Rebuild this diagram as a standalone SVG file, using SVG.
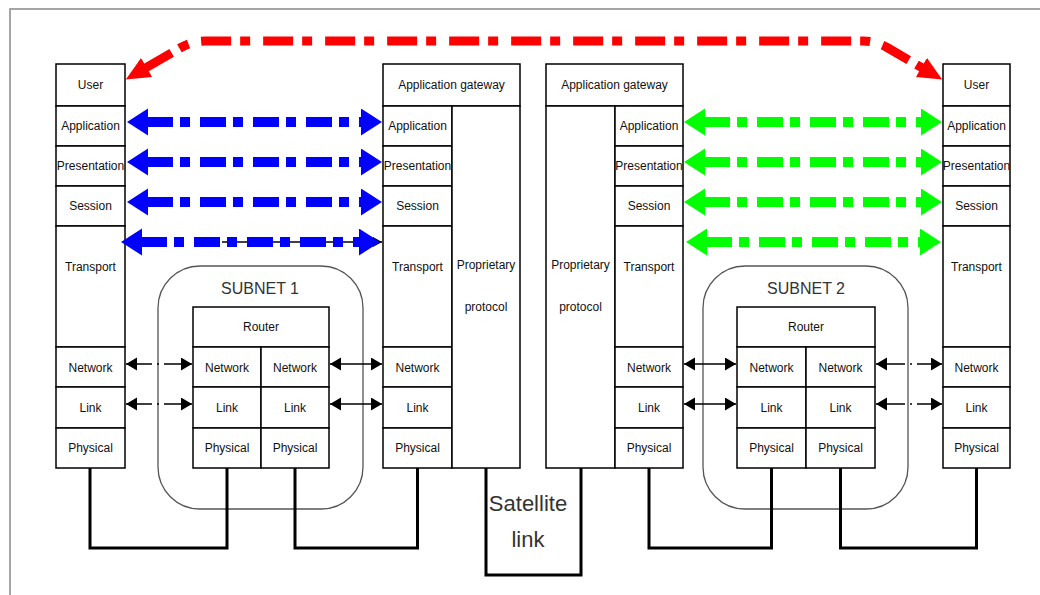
<svg xmlns="http://www.w3.org/2000/svg" width="1040" height="595" viewBox="0 0 1040 595">
<defs>
<style>
.box{fill:#fff;stroke:#000;stroke-width:1.5}
.t{font-family:"Liberation Sans",Arial,sans-serif;font-size:12px;fill:#111;text-anchor:middle}
.big{font-family:"Liberation Sans",Arial,sans-serif;font-size:16px;fill:#333;text-anchor:middle}
.sat{font-family:"Liberation Sans",Arial,sans-serif;font-size:22px;fill:#333;text-anchor:middle}
.subnet{fill:none;stroke:#555;stroke-width:1.3}
.wire{fill:none;stroke:#000;stroke-width:3}
.blue{fill:none;stroke:#0000ff;stroke-width:10;stroke-dasharray:26 7 10 10}
.green{fill:none;stroke:#00ff00;stroke-width:10;stroke-dasharray:26 7 10 10}
.red{fill:none;stroke:#ff0000;stroke-width:9;stroke-dasharray:30 9 10 13}
.bk{fill:none;stroke:#000;stroke-width:1.5}
.bkd{fill:none;stroke:#000;stroke-width:1.5;stroke-dasharray:26 5 2 5 60}
.bkd2{fill:none;stroke:#000;stroke-width:1.5;stroke-dasharray:29 5 2 5 60}
</style>
<marker id="hr" markerUnits="userSpaceOnUse" markerWidth="26" markerHeight="24" refX="1" refY="11" orient="auto-start-reverse"><path d="M0,0 L24,11 L0,22 z" fill="#ff0000"/></marker>
<marker id="hb" markerUnits="userSpaceOnUse" markerWidth="23" markerHeight="28" refX="1" refY="13.5" orient="auto-start-reverse"><path d="M0,0 L21,13.5 L0,27 z" fill="#0000ff"/></marker>
<marker id="hg" markerUnits="userSpaceOnUse" markerWidth="23" markerHeight="28" refX="1" refY="13.5" orient="auto-start-reverse"><path d="M0,0 L21,13.5 L0,27 z" fill="#00ff00"/></marker>
<marker id="hk" markerUnits="userSpaceOnUse" markerWidth="12" markerHeight="14" refX="11" refY="6.5" orient="auto-start-reverse"><path d="M0,0 L11,6.5 L0,13 z" fill="#000"/></marker>
<marker id="hks" markerUnits="userSpaceOnUse" markerWidth="10" markerHeight="11" refX="9" refY="5" orient="auto"><path d="M0,0 L9,5 L0,10 z" fill="#000"/></marker>
</defs>
<rect x="0" y="0" width="1040" height="595" fill="#fff"/>
<path d="M10,595 L10,9 L1040,9" fill="none" stroke="#888" stroke-width="1.5"/>

<g id="subnet1">
<rect class="subnet" x="158" y="266" width="205" height="243" rx="42" ry="42"/>
<text class="big" x="260" y="294">SUBNET 1</text>
</g>
<g id="subnet2">
<rect class="subnet" x="703" y="266" width="205" height="243" rx="42" ry="42"/>
<text class="big" x="806" y="294">SUBNET 2</text>
</g>

<g id="host1">
<rect class="box" x="56" y="64" width="69" height="42"/><text class="t" x="90.5" y="89">User</text>
<rect class="box" x="56" y="106" width="69" height="40"/><text class="t" x="90.5" y="130">Application</text>
<rect class="box" x="56" y="146" width="69" height="40"/><text class="t" x="90.5" y="170">Presentation</text>
<rect class="box" x="56" y="186" width="69" height="40"/><text class="t" x="90.5" y="210">Session</text>
<rect class="box" x="56" y="226" width="69" height="121"/><text class="t" x="90.5" y="271">Transport</text>
<rect class="box" x="56" y="347" width="69" height="40"/><text class="t" x="90.5" y="372">Network</text>
<rect class="box" x="56" y="387" width="69" height="41"/><text class="t" x="90.5" y="412">Link</text>
<rect class="box" x="56" y="428" width="69" height="40"/><text class="t" x="90.5" y="452">Physical</text>
</g>

<g id="host2">
<rect class="box" x="943" y="64" width="67" height="42"/><text class="t" x="976.5" y="89">User</text>
<rect class="box" x="943" y="106" width="67" height="40"/><text class="t" x="976.5" y="130">Application</text>
<rect class="box" x="943" y="146" width="67" height="40"/><text class="t" x="976.5" y="170">Presentation</text>
<rect class="box" x="943" y="186" width="67" height="40"/><text class="t" x="976.5" y="210">Session</text>
<rect class="box" x="943" y="226" width="67" height="121"/><text class="t" x="976.5" y="271">Transport</text>
<rect class="box" x="943" y="347" width="67" height="40"/><text class="t" x="976.5" y="372">Network</text>
<rect class="box" x="943" y="387" width="67" height="41"/><text class="t" x="976.5" y="412">Link</text>
<rect class="box" x="943" y="428" width="67" height="40"/><text class="t" x="976.5" y="452">Physical</text>
</g>

<g id="gateway1">
<rect class="box" x="383" y="64" width="137" height="42"/><text class="t" x="451.5" y="89">Application gateway</text>
<rect class="box" x="383" y="106" width="69" height="40"/><text class="t" x="417.5" y="130">Application</text>
<rect class="box" x="383" y="146" width="69" height="40"/><text class="t" x="417.5" y="170">Presentation</text>
<rect class="box" x="383" y="186" width="69" height="40"/><text class="t" x="417.5" y="210">Session</text>
<rect class="box" x="383" y="226" width="69" height="121"/><text class="t" x="417.5" y="271">Transport</text>
<rect class="box" x="383" y="347" width="69" height="40"/><text class="t" x="417.5" y="372">Network</text>
<rect class="box" x="383" y="387" width="69" height="41"/><text class="t" x="417.5" y="412">Link</text>
<rect class="box" x="383" y="428" width="69" height="40"/><text class="t" x="417.5" y="452">Physical</text>
<rect class="box" x="452" y="106" width="68" height="362"/>
<text class="t" x="486" y="269">Proprietary</text>
<text class="t" x="486" y="311">protocol</text>
</g>

<g id="gateway2">
<rect class="box" x="546" y="64" width="137" height="42"/><text class="t" x="614.5" y="89">Application gateway</text>
<rect class="box" x="546" y="106" width="69" height="362"/>
<text class="t" x="580.5" y="269">Proprietary</text>
<text class="t" x="580.5" y="311">protocol</text>
<rect class="box" x="615" y="106" width="68" height="40"/><text class="t" x="649" y="130">Application</text>
<rect class="box" x="615" y="146" width="68" height="40"/><text class="t" x="649" y="170">Presentation</text>
<rect class="box" x="615" y="186" width="68" height="40"/><text class="t" x="649" y="210">Session</text>
<rect class="box" x="615" y="226" width="68" height="121"/><text class="t" x="649" y="271">Transport</text>
<rect class="box" x="615" y="347" width="68" height="40"/><text class="t" x="649" y="372">Network</text>
<rect class="box" x="615" y="387" width="68" height="41"/><text class="t" x="649" y="412">Link</text>
<rect class="box" x="615" y="428" width="68" height="40"/><text class="t" x="649" y="452">Physical</text>
</g>

<g id="router1">
<rect class="box" x="193" y="307" width="136" height="40"/><text class="t" x="261" y="331">Router</text>
<rect class="box" x="193" y="347" width="68" height="40"/><text class="t" x="227" y="372">Network</text>
<rect class="box" x="261" y="347" width="68" height="40"/><text class="t" x="295" y="372">Network</text>
<rect class="box" x="193" y="387" width="68" height="41"/><text class="t" x="227" y="412">Link</text>
<rect class="box" x="261" y="387" width="68" height="41"/><text class="t" x="295" y="412">Link</text>
<rect class="box" x="193" y="428" width="68" height="40"/><text class="t" x="227" y="452">Physical</text>
<rect class="box" x="261" y="428" width="68" height="40"/><text class="t" x="295" y="452">Physical</text>
</g>

<g id="router2">
<rect class="box" x="737" y="307" width="138" height="40"/><text class="t" x="806" y="331">Router</text>
<rect class="box" x="737" y="347" width="69" height="40"/><text class="t" x="771.5" y="372">Network</text>
<rect class="box" x="806" y="347" width="69" height="40"/><text class="t" x="840.5" y="372">Network</text>
<rect class="box" x="737" y="387" width="69" height="41"/><text class="t" x="771.5" y="412">Link</text>
<rect class="box" x="806" y="387" width="69" height="41"/><text class="t" x="840.5" y="412">Link</text>
<rect class="box" x="737" y="428" width="69" height="40"/><text class="t" x="771.5" y="452">Physical</text>
<rect class="box" x="806" y="428" width="69" height="40"/><text class="t" x="840.5" y="452">Physical</text>
</g>

<g id="satellite">
<text class="sat" x="528" y="511">Satellite</text>
<text class="sat" x="528" y="547">link</text>
</g>

<g id="connectors">
<path class="wire" d="M90,468 V548 H227 V468"/>
<path class="wire" d="M295,468 V548 H417.5 V468"/>
<path class="wire" d="M649,468 V548 H771.5 V468"/>
<path class="wire" d="M840.5,468 V548 H976.5 V468"/>
<path class="wire" d="M486,468 V575 H581 V468"/>

<path class="red" d="M145.7,67.9 L180,48 Q192,41 205,41 L863,41 Q876,41 888,48 L922.3,67.9" marker-start="url(#hr)" marker-end="url(#hr)"/>

<line class="blue" x1="147" y1="122" x2="362" y2="122" marker-start="url(#hb)" marker-end="url(#hb)"/>
<line class="blue" x1="147" y1="162" x2="362" y2="162" marker-start="url(#hb)" marker-end="url(#hb)"/>
<line class="blue" x1="147" y1="202" x2="362" y2="202" marker-start="url(#hb)" marker-end="url(#hb)"/>
<line x1="222" y1="242" x2="382" y2="242" stroke="#000" stroke-width="1.3" marker-end="url(#hks)"/>
<line class="blue" x1="141" y1="242" x2="360" y2="242" marker-start="url(#hb)" marker-end="url(#hb)"/>

<line class="green" x1="704" y1="122" x2="922" y2="122" marker-start="url(#hg)" marker-end="url(#hg)"/>
<line class="green" x1="704" y1="162" x2="922" y2="162" marker-start="url(#hg)" marker-end="url(#hg)"/>
<line class="green" x1="704" y1="202" x2="922" y2="202" marker-start="url(#hg)" marker-end="url(#hg)"/>
<line class="green" x1="706" y1="242" x2="921" y2="242" marker-start="url(#hg)" marker-end="url(#hg)"/>

<line class="bkd" x1="126" y1="364" x2="192" y2="364" marker-start="url(#hk)" marker-end="url(#hk)"/>
<line class="bkd" x1="126" y1="404" x2="192" y2="404" marker-start="url(#hk)" marker-end="url(#hk)"/>
<line class="bk" x1="330" y1="364" x2="382" y2="364" marker-start="url(#hk)" marker-end="url(#hk)"/>
<line class="bk" x1="330" y1="404" x2="382" y2="404" marker-start="url(#hk)" marker-end="url(#hk)"/>
<line class="bk" x1="684" y1="364" x2="736" y2="364" marker-start="url(#hk)" marker-end="url(#hk)"/>
<line class="bk" x1="684" y1="404" x2="736" y2="404" marker-start="url(#hk)" marker-end="url(#hk)"/>
<line class="bkd2" x1="876" y1="364" x2="942" y2="364" marker-start="url(#hk)" marker-end="url(#hk)"/>
<line class="bkd2" x1="876" y1="404" x2="942" y2="404" marker-start="url(#hk)" marker-end="url(#hk)"/>
</g>
</svg>
